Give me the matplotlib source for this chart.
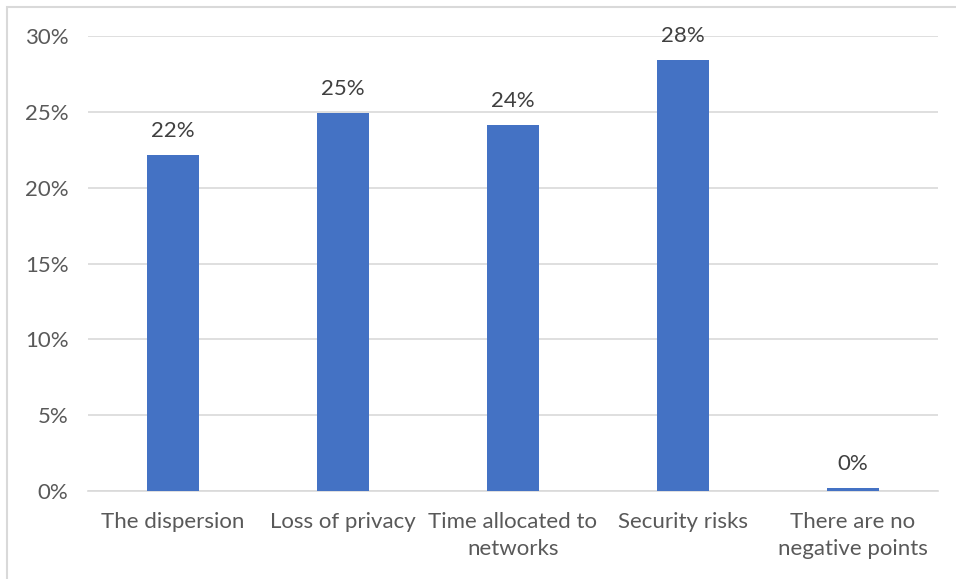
import matplotlib
matplotlib.use("Agg")
import matplotlib.pyplot as plt
from matplotlib.patches import Rectangle
from matplotlib.ticker import FuncFormatter

categories = ["The dispersion", "Loss of privacy", "Time allocated to\nnetworks",
              "Security risks", "There are no\nnegative points"]
shares = [0.2215, 0.249, 0.2415, 0.2845, 0.002]
y_ticks = [0, 0.05, 0.10, 0.15, 0.20, 0.25, 0.30]

plt.rcParams['font.family'] = ['Lato', 'DejaVu Sans']
text_color = "#595959"
fs = 16

fig = plt.figure(figsize=(9.56, 5.79), dpi=100)
W, H = 956, 579
ax = fig.add_axes([88 / W, 1 - 491 / H, 850 / W, 455 / H])

x = list(range(len(categories)))
bars = ax.bar(x, shares, width=0.31, color="#4472C4", zorder=3)

for xi, v in zip(x, shares):
    ax.annotate(f"{v:.0%}", xy=(xi, v), xytext=(0, 10), textcoords="offset points",
                ha="center", va="bottom", fontsize=fs, color="#404040")

ax.set_xlim(-0.5, len(categories) - 0.5)
ax.set_ylim(0, 0.30)
ax.set_yticks(y_ticks)
ax.yaxis.set_major_formatter(FuncFormatter(lambda v, _: f"{v:.0%}"))
ax.set_xticks(x)
ax.set_xticklabels(categories, linespacing=1.45)
ax.grid(axis="y", color="#D9D9D9", linewidth=1.2, zorder=0)
for s in ["top", "right", "left"]:
    ax.spines[s].set_visible(False)
ax.spines["bottom"].set_color("#D9D9D9")
ax.spines["bottom"].set_linewidth(1.2)
ax.tick_params(axis="both", length=0, labelsize=fs, colors=text_color)
ax.tick_params(axis="y", pad=14)
ax.tick_params(axis="x", pad=15)

# chart frame
fig.patches.append(Rectangle((7 / W, -0.1), 1.2, 1 - 7 / H + 0.1,
                             transform=fig.transFigure, fill=False,
                             edgecolor="#D9D9D9", linewidth=1.5))

fig.savefig("out.png", dpi=100, facecolor="white")
